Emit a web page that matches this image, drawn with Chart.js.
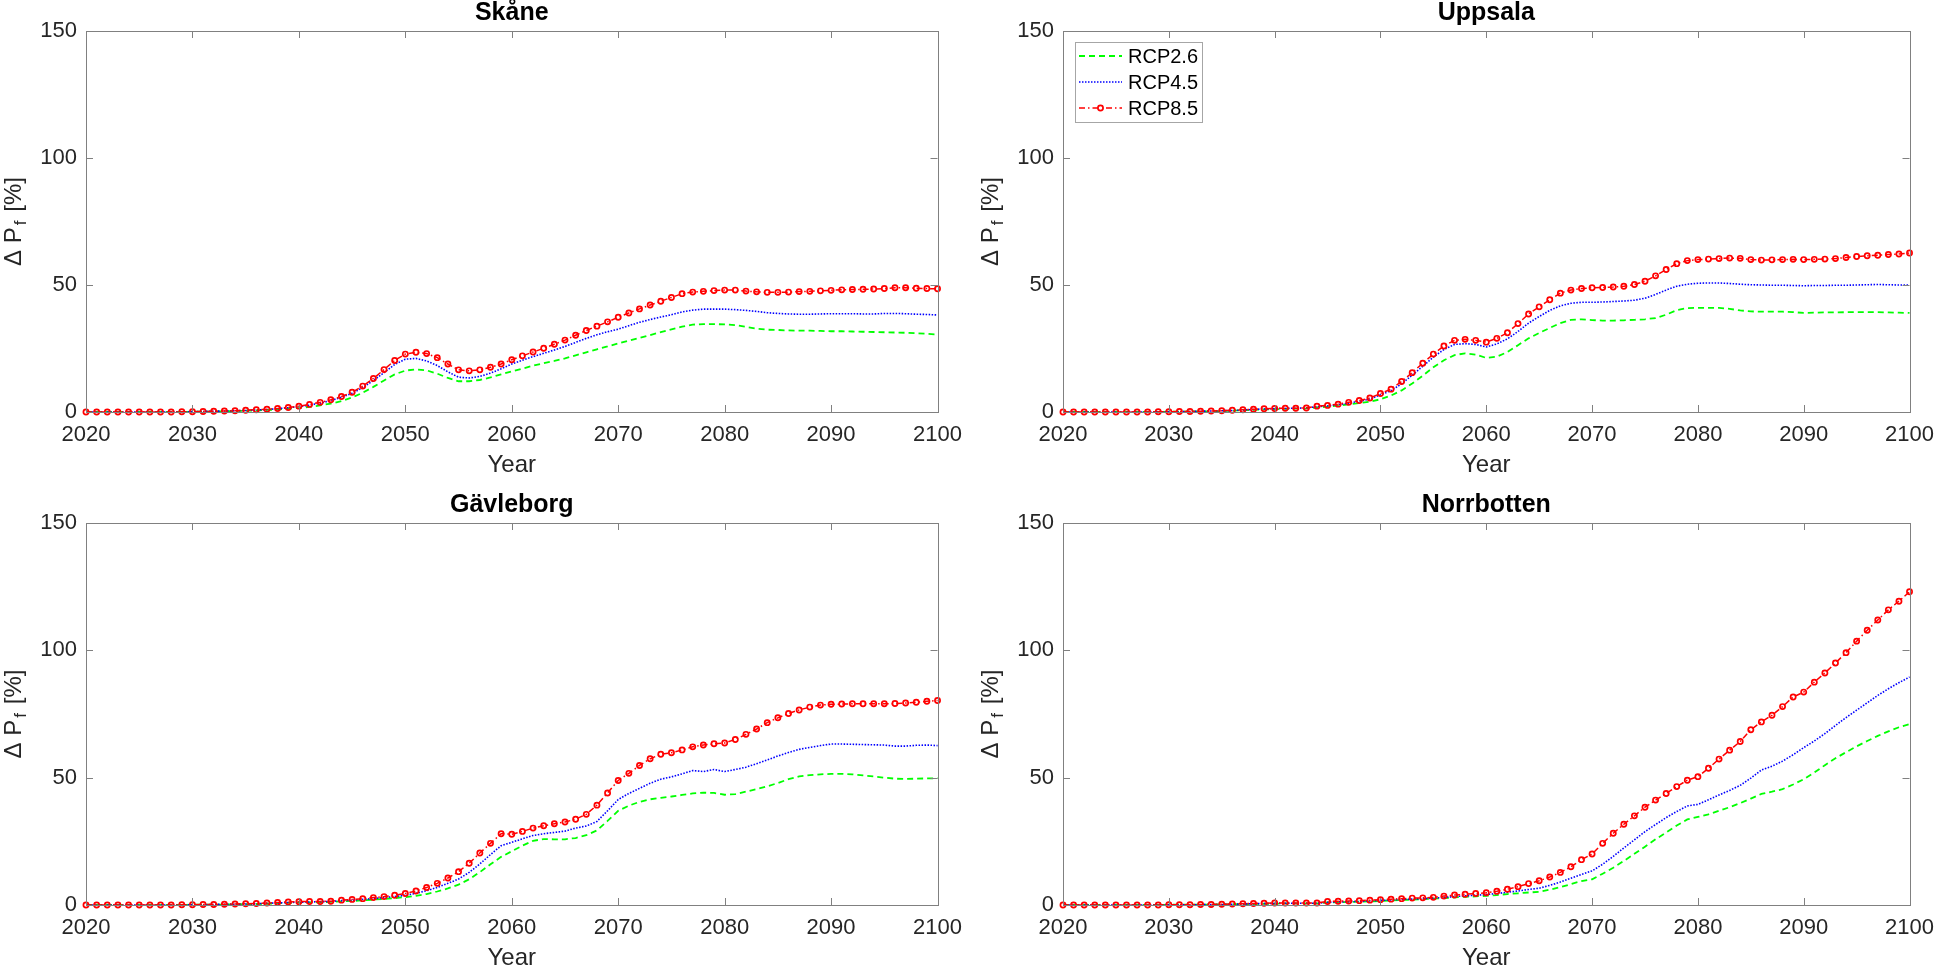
<!DOCTYPE html>
<html lang="sv">
<head>
<meta charset="UTF-8">
<title>Delta Pf - RCP scenarios</title>
<script src="https://cdn.jsdelivr.net/npm/chart.js@4.4.1/dist/chart.umd.min.js"></script>
<style>
  body { margin: 0; background: #fff; }
  #wrap { position: relative; width: 1944px; height: 971px; }
  canvas { position: absolute; }
</style>
</head>
<body>
<div id="wrap">
  <canvas id="c1" width="972" height="486" style="left:0;top:0"></canvas>
  <canvas id="c2" width="972" height="486" style="left:972px;top:0"></canvas>
  <canvas id="c3" width="972" height="485" style="left:0;top:486px"></canvas>
  <canvas id="c4" width="972" height="485" style="left:972px;top:486px"></canvas>
</div>
<script>
  /* data, one value per year */
  const years = [2020, 2021, 2022, 2023, 2024, 2025, 2026, 2027, 2028, 2029,
    2030, 2031, 2032, 2033, 2034, 2035, 2036, 2037, 2038, 2039,
    2040, 2041, 2042, 2043, 2044, 2045, 2046, 2047, 2048, 2049,
    2050, 2051, 2052, 2053, 2054, 2055, 2056, 2057, 2058, 2059,
    2060, 2061, 2062, 2063, 2064, 2065, 2066, 2067, 2068, 2069,
    2070, 2071, 2072, 2073, 2074, 2075, 2076, 2077, 2078, 2079,
    2080, 2081, 2082, 2083, 2084, 2085, 2086, 2087, 2088, 2089,
    2090, 2091, 2092, 2093, 2094, 2095, 2096, 2097, 2098, 2099, 2100];

  const xTicks = [2020, 2030, 2040, 2050, 2060, 2070, 2080, 2090, 2100];
  const yTicks = [0, 50, 100, 150];
  const scenarios = ['RCP2.6', 'RCP4.5', 'RCP8.5'];
  const regions = ['Skåne', 'Uppsala', 'Gävleborg', 'Norrbotten'];

  const skane26 = [0, 0, 0, 0, 0, 0, 0, 0, 0, 0,
    0.1, 0.1, 0.2, 0.3, 0.4, 0.5, 0.6, 0.8, 1.0, 1.3,
    1.6, 2.0, 2.6, 3.3, 4.3, 5.7, 7.6, 9.9, 12.4, 14.8,
    16.3, 16.8, 16.4, 15.1, 13.4, 12.1, 12.1, 12.6, 13.6, 14.8,
    16.0, 17.1, 18.2, 19.2, 20.1, 21.1, 22.3, 23.5, 24.7, 25.8,
    27.0, 28.1, 29.2, 30.3, 31.4, 32.5, 33.6, 34.4, 34.6, 34.6,
    34.5, 34.2, 33.5, 32.8, 32.4, 32.3, 32.1, 32.0, 32.0, 31.9,
    31.8, 31.8, 31.7, 31.6, 31.5, 31.4, 31.3, 31.2, 31.0, 30.8, 30.5];
  const skane45 = [0, 0, 0, 0, 0, 0, 0, 0, 0, 0.1,
    0.1, 0.2, 0.3, 0.4, 0.5, 0.6, 0.8, 1.0, 1.3, 1.7,
    2.1, 2.7, 3.5, 4.5, 5.8, 7.4, 9.6, 12.4, 15.5, 18.7,
    20.8, 21.1, 20.1, 18.3, 15.8, 13.7, 13.4, 14.0, 15.3, 17.0,
    18.9, 20.4, 21.8, 23.1, 24.4, 25.8, 27.4, 29.0, 30.4, 31.6,
    32.6, 34.0, 35.3, 36.4, 37.4, 38.3, 39.4, 40.1, 40.5, 40.5,
    40.5, 40.3, 40.0, 39.6, 39.1, 38.8, 38.6, 38.5, 38.5, 38.6,
    38.7, 38.7, 38.7, 38.6, 38.6, 38.8, 38.8, 38.7, 38.5, 38.4, 38.2];
  const skane85 = [0, 0, 0, 0, 0, 0, 0, 0, 0, 0.1,
    0.1, 0.2, 0.3, 0.4, 0.5, 0.7, 0.9, 1.1, 1.4, 1.8,
    2.3, 3.0, 3.8, 4.8, 6.1, 7.8, 10.2, 13.2, 16.7, 20.3,
    22.8, 23.5, 23.0, 21.4, 18.9, 16.6, 16.2, 16.6, 17.6, 18.9,
    20.6, 22.1, 23.6, 25.1, 26.7, 28.3, 30.2, 32.1, 33.8, 35.5,
    37.3, 39.0, 40.6, 42.1, 43.6, 45.1, 46.6, 47.2, 47.5, 47.8,
    48.0, 48.0, 47.6, 47.3, 47.1, 47.1, 47.2, 47.4, 47.5, 47.7,
    47.9, 48.1, 48.2, 48.3, 48.4, 48.6, 48.9, 48.9, 48.7, 48.6, 48.5];

  const uppsala26 = [0, 0, 0, 0, 0, 0, 0, 0, 0, 0,
    0.1, 0.1, 0.2, 0.2, 0.3, 0.4, 0.5, 0.7, 0.8, 1.0,
    1.1, 1.2, 1.3, 1.4, 1.8, 2.1, 2.5, 3.0, 3.5, 4.1,
    5.0, 6.5, 8.5, 11.2, 14.3, 17.6, 20.4, 22.4, 23.1, 22.6,
    21.3, 21.8, 23.6, 26.3, 29.0, 31.1, 33.1, 35.0, 36.3, 36.5,
    36.2, 36.0, 36.0, 36.1, 36.3, 36.5, 37.0, 38.3, 40.1, 40.9,
    41.0, 41.0, 41.0, 40.6, 40.0, 39.6, 39.5, 39.5, 39.5, 39.3,
    39.0, 39.1, 39.2, 39.2, 39.3, 39.3, 39.3, 39.3, 39.2, 39.1, 39.0];
  const uppsala45 = [0, 0, 0, 0, 0, 0, 0, 0, 0, 0.1,
    0.1, 0.1, 0.2, 0.3, 0.4, 0.5, 0.6, 0.8, 1.0, 1.2,
    1.3, 1.4, 1.5, 1.6, 2.1, 2.4, 2.9, 3.5, 4.2, 5.1,
    6.8, 8.4, 11.1, 14.5, 18.0, 21.6, 24.6, 26.6, 26.9, 26.6,
    25.6, 26.8, 28.8, 31.7, 35.0, 37.6, 40.0, 41.8, 42.8, 43.2,
    43.2, 43.3, 43.5, 43.7, 44.0, 44.8, 46.3, 48.0, 49.5, 50.3,
    50.7, 50.8, 50.8, 50.6, 50.3, 50.1, 50.0, 49.9, 49.9, 49.8,
    49.7, 49.8, 49.8, 49.9, 49.9, 50.0, 50.1, 50.2, 50.1, 50.0, 50.0];
  const uppsala85 = [0, 0, 0, 0, 0, 0, 0, 0, 0, 0.1,
    0.1, 0.2, 0.2, 0.3, 0.4, 0.5, 0.7, 0.9, 1.1, 1.3,
    1.4, 1.5, 1.5, 1.6, 2.3, 2.6, 3.1, 3.8, 4.5, 5.5,
    7.3, 9.0, 12.0, 15.5, 19.2, 22.8, 26.0, 28.2, 28.6, 28.2,
    27.5, 29.0, 31.2, 34.8, 38.6, 41.4, 44.2, 46.8, 48.0, 48.6,
    48.9, 49.0, 49.2, 49.5, 50.2, 51.5, 53.6, 56.1, 58.4, 59.6,
    60.0, 60.2, 60.4, 60.6, 60.5, 60.0, 59.8, 59.9, 60.0, 60.1,
    60.0, 60.1, 60.2, 60.4, 60.8, 61.2, 61.5, 61.7, 62.0, 62.2, 62.6];

  const gavleborg26 = [0, 0, 0, 0, 0, 0, 0, 0, 0, 0,
    0.1, 0.1, 0.1, 0.2, 0.3, 0.3, 0.4, 0.5, 0.7, 0.8,
    0.9, 1.0, 1.1, 1.2, 1.4, 1.6, 1.8, 2.1, 2.4, 2.7,
    3.1, 3.6, 4.3, 5.3, 6.5, 8.0, 10.1, 12.9, 16.0, 18.9,
    21.1, 23.3, 25.2, 25.9, 25.8, 25.8, 26.3, 27.4, 29.3, 33.0,
    37.0, 39.0, 40.5, 41.5, 42.1, 42.6, 43.2, 43.8, 44.1, 44.0,
    43.3, 43.5, 44.5, 45.5, 46.6, 47.9, 49.4, 50.5, 51.0, 51.3,
    51.5, 51.5, 51.3, 50.9, 50.5, 50.0, 49.6, 49.5, 49.6, 49.7, 49.8];
  const gavleborg45 = [0, 0, 0, 0, 0, 0, 0, 0, 0, 0,
    0.1, 0.1, 0.2, 0.3, 0.3, 0.4, 0.5, 0.7, 0.8, 1.0,
    1.1, 1.2, 1.3, 1.4, 1.7, 1.9, 2.2, 2.5, 2.9, 3.3,
    3.8, 4.6, 5.6, 6.9, 8.5, 10.2, 12.8, 16.1, 19.8, 23.3,
    24.6, 26.0, 27.3, 28.0, 28.5, 29.0, 30.2, 31.0, 32.8, 37.0,
    41.4, 43.8, 45.8, 47.8, 49.4, 50.3, 51.5, 52.8, 52.4, 53.2,
    52.4, 53.2, 54.1, 55.5, 57.0, 58.5, 59.9, 61.1, 61.9, 62.6,
    63.2, 63.2, 63.1, 63.0, 62.9, 62.8, 62.4, 62.4, 62.7, 62.8, 62.6];
  const gavleborg85 = [0, 0, 0, 0, 0, 0, 0, 0, 0, 0.1,
    0.1, 0.2, 0.2, 0.3, 0.4, 0.5, 0.6, 0.8, 1.0, 1.2,
    1.3, 1.4, 1.4, 1.5, 1.9, 2.2, 2.5, 2.9, 3.3, 3.8,
    4.5, 5.5, 6.9, 8.5, 10.6, 13.1, 16.4, 20.4, 24.2, 28.0,
    27.8, 28.9, 30.2, 31.1, 31.9, 32.6, 33.7, 35.6, 39.2, 44.0,
    48.9, 51.7, 54.8, 57.4, 59.2, 59.8, 60.9, 62.1, 62.8, 63.3,
    63.6, 65.0, 67.0, 69.1, 71.6, 73.5, 75.2, 76.6, 77.7, 78.5,
    78.8, 78.9, 79.0, 79.0, 79.0, 79.0, 79.1, 79.3, 79.6, 80.0, 80.3];

  const norrbotten26 = [0, 0, 0, 0, 0, 0, 0, 0, 0, 0,
    0.1, 0.1, 0.1, 0.1, 0.2, 0.2, 0.3, 0.3, 0.4, 0.5,
    0.5, 0.6, 0.6, 0.6, 0.6, 1.0, 1.1, 1.2, 1.3, 1.4,
    1.6, 1.8, 2.0, 2.1, 2.3, 2.5, 2.7, 3.0, 3.2, 3.4,
    3.6, 3.9, 4.3, 4.6, 4.9, 5.2, 6.0, 7.0, 8.2, 9.4,
    10.1, 12.3, 14.6, 17.3, 20.1, 22.9, 25.8, 28.5, 31.2, 33.6,
    34.6, 35.6, 37.0, 38.4, 40.0, 41.8, 43.6, 44.5, 45.5, 47.3,
    49.4, 52.0, 54.9, 57.6, 60.0, 62.3, 64.4, 66.4, 68.2, 69.8, 71.0];
  const norrbotten45 = [0, 0, 0, 0, 0, 0, 0, 0, 0, 0,
    0.1, 0.1, 0.1, 0.1, 0.2, 0.2, 0.3, 0.4, 0.5, 0.6,
    0.6, 0.7, 0.7, 0.7, 0.7, 1.1, 1.2, 1.3, 1.4, 1.6,
    1.8, 2.0, 2.2, 2.3, 2.5, 2.7, 3.0, 3.3, 3.6, 3.8,
    4.1, 4.5, 5.0, 5.5, 6.1, 6.6, 7.7, 9.0, 10.5, 12.0,
    13.4, 16.0, 19.1, 22.4, 25.6, 28.8, 31.6, 34.3, 36.7, 38.9,
    39.5, 41.3, 43.2, 45.0, 47.0, 49.8, 53.0, 54.5, 56.5, 59.0,
    61.8, 64.4, 67.3, 70.5, 73.6, 76.5, 79.4, 82.3, 84.9, 87.3, 89.5];
  const norrbotten85 = [0, 0, 0, 0, 0, 0, 0, 0, 0, 0,
    0.1, 0.1, 0.1, 0.2, 0.2, 0.3, 0.4, 0.5, 0.6, 0.7,
    0.8, 0.8, 0.8, 0.8, 0.8, 1.4, 1.5, 1.6, 1.7, 1.9,
    2.1, 2.3, 2.5, 2.7, 2.8, 3.0, 3.5, 3.9, 4.2, 4.5,
    4.8, 5.4, 6.2, 7.2, 8.4, 9.5, 11.0, 12.8, 15.0, 17.8,
    20.0, 24.2, 28.2, 31.7, 35.0, 38.4, 41.2, 43.8, 46.5, 49.0,
    50.4, 53.7, 57.3, 60.8, 64.2, 68.8, 71.9, 74.5, 77.9, 81.7,
    83.6, 87.5, 91.1, 95.0, 99.1, 103.6, 107.9, 111.9, 115.9, 119.3, 123.0];

  const FONT = '"Liberation Sans", Arial, Helvetica, sans-serif';
  const TEXT = '#262626';
  const AXIS = '#808080';

  function toXY(vals) {
    return vals.map((v, i) => ({ x: years[i], y: v }));
  }

  // box, inward ticks on all sides, title and axis labels like the matlab figure
  const matlabAxes = {
    id: 'matlabAxes',
    afterDraw(chart, args, opts) {
      const ctx = chart.ctx;
      const a = chart.chartArea;
      const xs = chart.scales.x, ys = chart.scales.y;
      const tl = 7;
      ctx.save();
      ctx.strokeStyle = AXIS;
      ctx.lineWidth = 1;
      ctx.setLineDash([]);
      ctx.strokeRect(Math.round(a.left) + 0.5, Math.round(a.top) + 0.5,
        Math.round(a.right - a.left), Math.round(a.bottom - a.top));
      ctx.beginPath();
      xTicks.forEach(t => {
        const px = Math.round(xs.getPixelForValue(t)) + 0.5;
        ctx.moveTo(px, a.bottom); ctx.lineTo(px, a.bottom - tl);
        ctx.moveTo(px, a.top); ctx.lineTo(px, a.top + tl);
      });
      yTicks.forEach(t => {
        const py = Math.round(ys.getPixelForValue(t)) + 0.5;
        ctx.moveTo(a.left, py); ctx.lineTo(a.left + tl, py);
        ctx.moveTo(a.right, py); ctx.lineTo(a.right - tl, py);
      });
      ctx.stroke();

      const cx = (a.left + a.right) / 2;
      ctx.fillStyle = '#000';
      ctx.textAlign = 'center';
      ctx.textBaseline = 'middle';
      ctx.font = 'bold 25px ' + FONT;
      ctx.fillText(opts.title, cx, a.top - 18);

      ctx.fillStyle = TEXT;
      ctx.font = '24px ' + FONT;
      ctx.fillText('Year', cx, a.bottom + 53);

      // y label: Δ P_f [%]
      const big = '24px ' + FONT, small = '17px ' + FONT;
      ctx.translate(a.left - 65, (a.top + a.bottom) / 2);
      ctx.rotate(-Math.PI / 2);
      ctx.textAlign = 'left';
      ctx.textBaseline = 'alphabetic';
      ctx.font = big;
      const w1 = ctx.measureText('\u0394 P').width;
      const w3 = ctx.measureText(' [%]').width;
      ctx.font = small;
      const w2 = ctx.measureText('f').width;
      const sx = -(w1 + w2 + w3 + 4) / 2;
      ctx.font = big;
      ctx.fillText('\u0394 P', sx, 0);
      ctx.font = small;
      ctx.fillText('f', sx + w1 + 2, 5);
      ctx.font = big;
      ctx.fillText(' [%]', sx + w1 + w2 + 4, 0);
      ctx.restore();

      if (opts.legend) drawLegend(chart);
    }
  };

  function drawLegend(chart) {
    const ctx = chart.ctx;
    const a = chart.chartArea;
    const bx = a.left + 12, by = a.top + 11, bw = 127, bh = 80;
    ctx.save();
    ctx.fillStyle = '#fff';
    ctx.fillRect(bx, by, bw, bh);
    ctx.strokeStyle = '#a6a6a6';
    ctx.lineWidth = 1;
    ctx.strokeRect(bx + 0.5, by + 0.5, bw, bh);
    chart.data.datasets.forEach((ds, i) => {
      const y = by + 14 + i * 26;
      const x0 = bx + 4, x1 = bx + 47;
      ctx.strokeStyle = ds.borderColor;
      ctx.lineWidth = ds.borderWidth;
      ctx.setLineDash(ds.borderDash || []);
      ctx.beginPath();
      ctx.moveTo(x0, y); ctx.lineTo(x1, y);
      ctx.stroke();
      ctx.setLineDash([]);
      if (ds.pointRadius > 0) {
        ctx.lineWidth = ds.pointBorderWidth;
        ctx.fillStyle = '#fff';
        ctx.beginPath();
        ctx.arc((x0 + x1) / 2, y, ds.pointRadius, 0, Math.PI * 2);
        ctx.fill();
        ctx.stroke();
      }
      ctx.fillStyle = '#000';
      ctx.font = '20px ' + FONT;
      ctx.textAlign = 'left';
      ctx.textBaseline = 'middle';
      ctx.fillText(ds.label, bx + 53, y + 1);
    });
    ctx.restore();
  }

  function makeChart(id, title, s26, s45, s85, area, legend) {
    const c = document.getElementById(id);
    const W = c.width, H = c.height;
    return new Chart(c, {
      type: 'line',
      data: {
        datasets: [
          { label: scenarios[0], data: toXY(s26), borderColor: '#00ff00', borderWidth: 1.8,
            borderDash: [6, 4], pointRadius: 0, order: 3 },
          { label: scenarios[1], data: toXY(s45), borderColor: '#0000ff', borderWidth: 1.6,
            borderDash: [1.5, 1.5], pointRadius: 0, order: 2 },
          { label: scenarios[2], data: toXY(s85), borderColor: '#ff0000', borderWidth: 1.5,
            borderDash: [6, 3, 1.5, 3], pointRadius: 2.6, pointBorderWidth: 1.7,
            pointBorderColor: '#ff0000', pointBackgroundColor: 'rgba(255,255,255,0)', order: 1 }
        ]
      },
      options: {
        responsive: false,
        animation: false,
        events: [],
        clip: 8,
        elements: { line: { tension: 0, fill: false } },
        layout: { padding: { left: 0, top: area.top, right: W - area.right, bottom: 0 } },
        plugins: {
          legend: { display: false },
          tooltip: { enabled: false },
          matlabAxes: { title: title, legend: legend }
        },
        scales: {
          x: {
            type: 'linear', min: 2020, max: 2100,
            grid: { display: false, drawTicks: false },
            border: { display: false },
            afterBuildTicks: s => { s.ticks = xTicks.map(v => ({ value: v })); },
            afterFit: s => { s.height = H - area.bottom; },
            ticks: { color: TEXT, font: { family: FONT, size: 22 }, padding: 10, maxRotation: 0,
              callback: v => String(v) }
          },
          y: {
            type: 'linear', min: 0, max: 150,
            grid: { display: false, drawTicks: false },
            border: { display: false },
            afterBuildTicks: s => { s.ticks = yTicks.map(v => ({ value: v })); },
            afterFit: s => { s.width = area.left; },
            ticks: { color: TEXT, font: { family: FONT, size: 22 }, padding: 9 }
          }
        }
      },
      plugins: [matlabAxes]
    });
  }

  makeChart('c1', regions[0], skane26, skane45, skane85, { left: 86, top: 31, right: 941, bottom: 412 }, false);
  makeChart('c2', regions[1], uppsala26, uppsala45, uppsala85, { left: 91, top: 31, right: 947, bottom: 412 }, true);
  makeChart('c3', regions[2], gavleborg26, gavleborg45, gavleborg85, { left: 86, top: 37, right: 941, bottom: 419 }, false);
  makeChart('c4', regions[3], norrbotten26, norrbotten45, norrbotten85, { left: 91, top: 37, right: 947, bottom: 419 }, false);
</script>
</body>
</html>
